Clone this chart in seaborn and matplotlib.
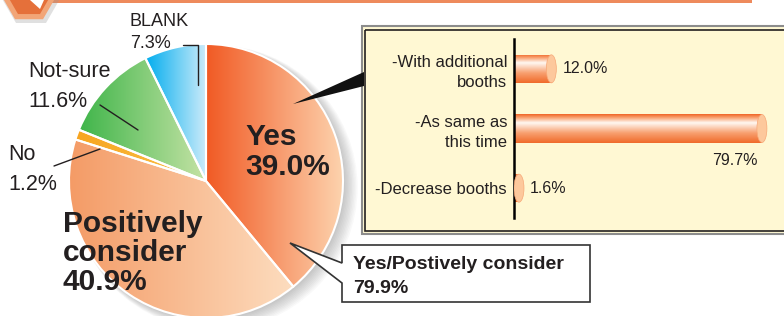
import numpy as np
import pandas as pd
import matplotlib
matplotlib.use("Agg")
import matplotlib.pyplot as plt
import seaborn as sns
from matplotlib.colors import LinearSegmentedColormap
from matplotlib.patches import Polygon, Rectangle, Ellipse, RegularPolygon, Circle

# %%
# data
pie_labels = ['Yes', 'Positively consider', 'No', 'Not-sure', 'BLANK']
pie_values = [39.0, 40.9, 1.2, 11.6, 7.3]
pie_left = ['#F15A24', '#F49B66', '#F7A520', '#3FB54A', '#00ADEE']
pie_right = ['#FDD3AE', '#FDDDBF', '#FBC24A', '#C6E3A6', '#CBEBFA']

bar_labels = ['-With additional\nbooths', '-As same as\nthis time', '-Decrease booths']
bar_values = [12.0, 79.7, 1.6]

callout_title = 'Yes/Postively consider'

# %%
sns.set_style('white')
plt.rcParams['font.family'] = ['Liberation Sans', 'DejaVu Sans']
TXT = '#231f20'

W, H = 784, 316
fig = plt.figure(figsize=(W / 100, H / 100), dpi=100)
ax = fig.add_axes([0, 0, 1, 1])

# pie, drawn in pixel units (y grows downwards, so counterclock in data = clockwise on screen)
cx, cy, r = 206, 181, 137
for i in range(10):
    ax.add_patch(Circle((cx + 2 + i * 0.8, cy + 2 + i * 0.5), r + i * 0.6,
                        color='#555555', alpha=0.035, lw=0, zorder=0))

wedges, _ = ax.pie(pie_values, center=(cx, cy), radius=r, startangle=270,
                   counterclock=True, explode=[0, 0.01, 0.03, 0, 0],
                   wedgeprops=dict(edgecolor='white', linewidth=1.5))

grad = np.linspace(0, 1, 256).reshape(1, -1)
for w, c0, c1 in zip(wedges, pie_left, pie_right):
    ext = w.get_path().get_extents()
    cmap = LinearSegmentedColormap.from_list('g', [c0, c1])
    im = ax.imshow(grad, cmap=cmap, extent=[ext.x0, ext.x1, ext.y1, ext.y0],
                   aspect='auto', zorder=1, interpolation='bilinear')
    im.set_clip_path(w)
    w.set_facecolor('none')
    w.set_zorder(2)

# leader lines
ax.plot([183, 198, 198], [45, 45, 85], color=TXT, lw=1, zorder=4)
ax.plot([100, 138], [105, 130], color=TXT, lw=1, zorder=4)
ax.plot([54, 100], [166, 149], color=TXT, lw=1, zorder=4)


def lines(x, y0, dy, strs, **kw):
    for k, s in enumerate(strs):
        ax.text(x, y0 + k * dy, s, va='baseline', color=TXT, zorder=7, **kw)


lines(130, 26, 22, [pie_labels[4], f'{pie_values[4]:.1f}%'], fontsize=13)
lines(28, 77, 30, [pie_labels[3], f'{pie_values[3]:.1f}%'], fontsize=15.5)
lines(8, 160, 30, [pie_labels[2], f'{pie_values[2]:.1f}%'], fontsize=15.5)
lines(245, 145, 30, [pie_labels[0], f'{pie_values[0]:.1f}%'],
      fontsize=21.5, fontweight='bold')
lines(63, 232, 29, pie_labels[1].split(' ') + [f'{pie_values[1]:.1f}%'],
      fontsize=21.5, fontweight='bold')

# header strip and badge
ax.add_patch(Rectangle((40, 0), 712, 2.5, fc='#EE8A5C', lw=0, zorder=3))
ax.add_patch(RegularPolygon((31, -3), 6, radius=30, orientation=np.pi / 6,
                            fc='#999999', alpha=0.3, lw=0, zorder=3))
ax.add_patch(RegularPolygon((29, -5), 6, radius=28, orientation=np.pi / 6,
                            fc='#F2A577', lw=0, zorder=3))
ax.add_patch(RegularPolygon((29, -5), 6, radius=22, orientation=np.pi / 6,
                            fc='#E5703A', lw=0, zorder=3))
ax.add_patch(Polygon([(30, 0), (44, 0), (40, 9)], fc='white', lw=0, zorder=3))

# yellow panel
ax.add_patch(Rectangle((362, 26), 440, 208, fc='#fff8d3', ec='#8c8c8c', lw=1.5, zorder=3))
ax.add_patch(Rectangle((365.5, 29.5), 440, 201, fc='none', ec=TXT, lw=1.2, zorder=3))

# callouts
ax.add_patch(Polygon([(293, 104), (364, 72), (364, 86)], fc='#111111', lw=0, zorder=5))
ax.add_patch(Polygon([(342, 245), (590, 245), (590, 302), (342, 302), (342, 283),
                      (290, 243), (342, 263)], closed=True, fc='white', ec='#333333',
                     lw=1.2, zorder=6))
lines(353, 269, 24, [callout_title, f'{pie_values[0] + pie_values[1]:.1f}%'],
      fontsize=14, fontweight='bold')

ax.set_xlim(0, W)
ax.set_ylim(H, 0)
ax.axis('off')

# %%
# bar panel
bax = fig.add_axes([514 / W, 1 - 218 / H, 270 / W, 179 / H])
df = pd.DataFrame({'label': bar_labels, 'value': bar_values})
sns.barplot(data=df, x='value', y='label', orient='h', width=0.47,
            color='#F26B2A', errorbar=None, ax=bax)

xmax = 86.8
cap_w = 10 * xmax / 270
bar_cmap = LinearSegmentedColormap.from_list(
    'bar', [(0, '#F06425'), (0.12, '#F9A06E'), (0.3, '#FFF8F2'),
            (0.65, '#F8A070'), (1, '#F06A2A')])
vgrad = np.linspace(0, 1, 256).reshape(-1, 1)
for p in list(bax.patches):
    x0, y0, w, h = p.get_x(), p.get_y(), p.get_width(), p.get_height()
    im = bax.imshow(vgrad, cmap=bar_cmap, extent=[x0, x0 + w, y0 + h, y0],
                    aspect='auto', zorder=2, interpolation='bilinear')
    im.set_clip_path(p)
    p.set_facecolor('none')
    p.set_edgecolor('none')
    bax.add_patch(Ellipse((x0 + w, y0 + h / 2), cap_w, h, fc='#FDC89C',
                          ec='#F7A877', lw=0.5, zorder=3))

for i, v in enumerate(bar_values):
    if v == max(bar_values):
        bax.annotate(f'{v:.1f}%', xy=(v, i), xytext=(-3, -23), textcoords='offset points',
                     ha='right', va='center', fontsize=11.5, color=TXT)
    else:
        bax.annotate(f'{v:.1f}%', xy=(v, i), xytext=(8, 0), textcoords='offset points',
                     ha='left', va='center', fontsize=11.5, color=TXT)

bax.set_xlim(0, xmax)
bax.set_ylim(2.5, -0.5)
bax.set_xticks([])
bax.set_xlabel('')
bax.set_ylabel('')
bax.patch.set_alpha(0)
sns.despine(ax=bax, left=False, top=True, right=True, bottom=True)
bax.spines['left'].set_color('black')
bax.spines['left'].set_linewidth(1.8)
bax.tick_params(axis='y', length=0, pad=5, labelsize=12, labelcolor=TXT)
for t in bax.get_yticklabels():
    t.set_linespacing(1.4)

plt.savefig('out.png', dpi=100)
